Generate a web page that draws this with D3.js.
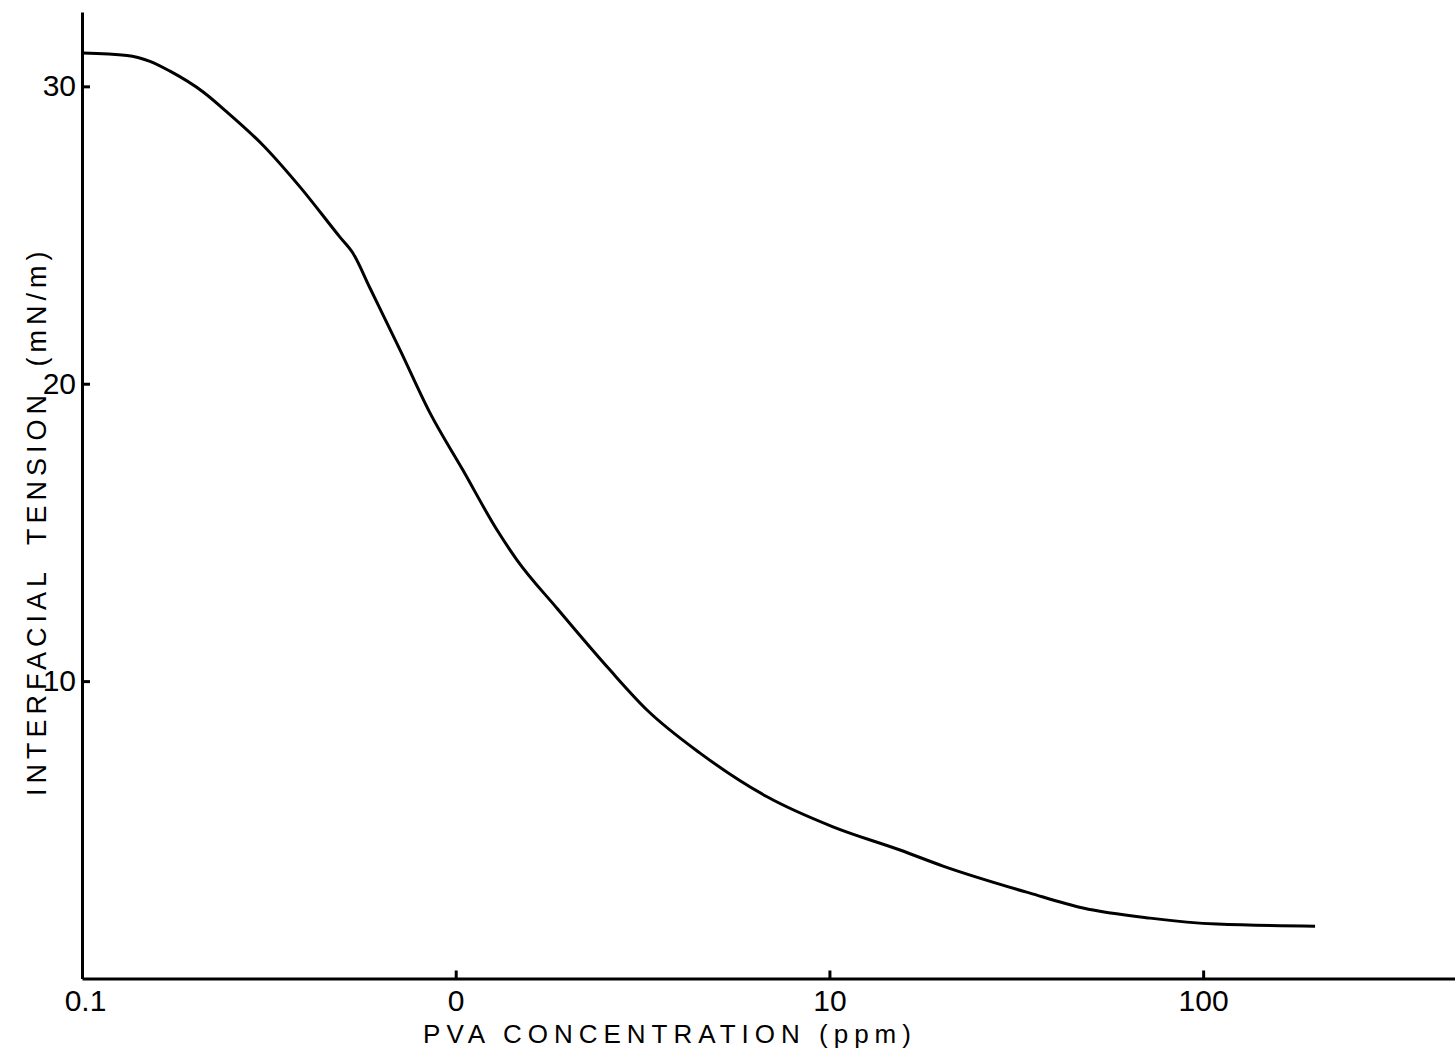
<!DOCTYPE html>
<html lang="en">
<head>
<meta charset="UTF-8">
<title>Interfacial tension vs PVA concentration</title>
<style>
  body { margin: 0; background: #fff; }
  svg { display: block; }
  .axis path, .axis line { stroke: #000; stroke-width: 3; }
  .axis text { font-family: "Liberation Sans", Arial, sans-serif; font-size: 30px; fill: #000; }
  .label { font-family: "Liberation Sans", Arial, sans-serif; fill: #000; }
  .curve { fill: none; stroke: #000; stroke-width: 3; }
</style>
</head>
<body>
<svg id="chart" width="1455" height="1059"></svg>
<script src="https://d3js.org/d3.v7.min.js"></script>
<script>
// PVA concentration (ppm) and interfacial tension (mN/m)
const concentration = [0.1006, 0.132, 0.152, 0.172, 0.211, 0.244, 0.305, 0.383, 0.49, 0.531,
                       0.59, 0.71, 0.854, 1.046, 1.29, 1.459, 1.866, 2.588, 3.25,
                       4.506, 6.81, 10.22, 15.45, 20.14, 34.4, 47.7, 72.1, 108.9, 199.3];
const tension = [31.12, 31.04, 30.84, 30.51, 29.81, 29.14, 28.02, 26.62, 24.93, 24.39,
                 23.21, 21.13, 19.01, 17.09, 15.08, 14.07, 12.45, 10.37, 9.03,
                 7.58, 6.11, 5.10, 4.32, 3.78, 2.87, 2.37, 2.03, 1.83, 1.76];

const xTicks = [0.1, 1, 10, 100];
const xTickLabels = ["0.1", "0", "10", "100"];
const yTicks = [10, 20, 30];

const svg = d3.select('#chart');

const x = d3.scaleLog().domain([0.1, 472]).range([82, 1455]);
const y = d3.scaleLinear().domain([0, 32.5]).range([978.5, 12]);

// x axis, ticks pointing inward
const xAxis = svg.append('g')
    .attr('class', 'axis')
    .attr('transform', 'translate(0,978.5)')
    .call(d3.axisBottom(x)
        .tickValues(xTicks)
        .tickFormat((d, i) => xTickLabels[i])
        .tickSizeInner(-8)
        .tickSizeOuter(0)
        .tickPadding(11));
xAxis.selectAll('line').attr('stroke-width', 2.5);
xAxis.selectAll('text').filter((d) => d === 0.1).attr('dx', 3);

// y axis
const yAxis = svg.append('g')
    .attr('class', 'axis')
    .attr('transform', 'translate(82,0)')
    .call(d3.axisLeft(y)
        .tickValues(yTicks)
        .tickFormat(d3.format('d'))
        .tickSizeInner(-8)
        .tickSizeOuter(0)
        .tickPadding(6));
yAxis.selectAll('line').attr('stroke-width', 2.5);

// curve
const pts = concentration.map((c, i) => [c, tension[i]]);
const line = d3.line()
    .x(d => x(d[0]))
    .y(d => y(d[1]))
    .curve(d3.curveMonotoneX);

svg.append('path')
    .datum(pts)
    .attr('class', 'curve')
    .attr('d', line);

// axis titles
svg.append('text')
    .attr('class', 'label')
    .attr('x', 670)
    .attr('y', 1043)
    .attr('text-anchor', 'middle')
    .style('font-size', '26px')
    .style('letter-spacing', '6px')
    .text('PVA CONCENTRATION (ppm)');

svg.append('text')
    .attr('class', 'label')
    .attr('transform', 'translate(46,796) rotate(-90)')
    .attr('text-anchor', 'start')
    .style('font-size', '27px')
    .style('letter-spacing', '5px')
    .style('word-spacing', '11px')
    .text('INTERFACIAL TENSION (mN/m)');
</script>
</body>
</html>
